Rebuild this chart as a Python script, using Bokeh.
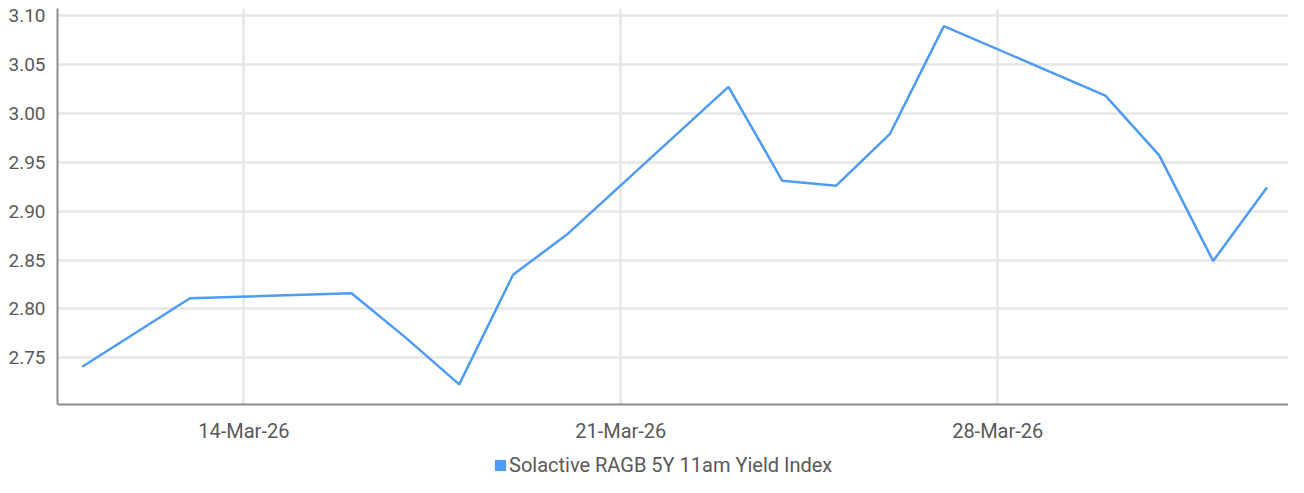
from datetime import datetime, timedelta
from bokeh.plotting import figure
from bokeh.layouts import column
from bokeh.models import (ColumnDataSource, FixedTicker, DatetimeTickFormatter,
                          NumeralTickFormatter, Range1d, Legend, LegendItem)
from bokeh.embed import file_html
from bokeh.resources import INLINE

dates = ["2026-03-11", "2026-03-12", "2026-03-13", "2026-03-16", "2026-03-17",
         "2026-03-18", "2026-03-19", "2026-03-20", "2026-03-23", "2026-03-24",
         "2026-03-25", "2026-03-26", "2026-03-27", "2026-03-30", "2026-03-31",
         "2026-04-01", "2026-04-02"]
values = [2.741, 2.776, 2.811, 2.816, 2.771, 2.723, 2.835, 2.876, 3.027, 2.931,
          2.926, 2.979, 3.089, 3.018, 2.957, 2.849, 2.924]
x_tick_dates = ["2026-03-14", "2026-03-21", "2026-03-28"]
y_ticks = [2.75, 2.80, 2.85, 2.90, 2.95, 3.00, 3.05, 3.10]
series_name = "Solactive RAGB 5Y 11am Yield Index"

xs = [datetime.strptime(d, "%Y-%m-%d") for d in dates]
src = ColumnDataSource(dict(x=xs, y=values))

def ms(d):
    return (d - datetime(1970, 1, 1)).total_seconds() * 1000.0

x0 = xs[0] - timedelta(days=0.46)
x1 = xs[-1] + timedelta(days=0.40)

FONT = "Roboto"
TXT = "#595959"
BLUE = "#4d9bf5"
GRID = "#e6e6e6"
AXIS = "#8c8c8c"

p = figure(width=1288, height=452, output_backend="svg",
           toolbar_location=None, x_axis_type="datetime",
           x_range=Range1d(x0, x1), y_range=Range1d(2.7024, 3.107),
           min_border_left=57, min_border_right=0, min_border_top=8,
           min_border_bottom=48)
p.outline_line_color = None
p.background_fill_color = "white"
p.border_fill_color = "white"

xticker = FixedTicker(ticks=[ms(datetime.strptime(d, "%Y-%m-%d")) for d in x_tick_dates])
p.xaxis.ticker = xticker
p.xaxis.formatter = DatetimeTickFormatter(days="%d-%b-%y", months="%d-%b-%y",
                                          hours="%d-%b-%y")
p.yaxis.ticker = FixedTicker(ticks=y_ticks)
p.yaxis.formatter = NumeralTickFormatter(format="0.00")

for ax in (p.xaxis, p.yaxis):
    ax.axis_line_color = AXIS
    ax.axis_line_width = 2
    ax.major_tick_line_color = None
    ax.minor_tick_line_color = None
    ax.major_label_text_font = FONT
    ax.major_label_text_color = TXT
p.xaxis.major_label_text_font_size = "20px"
p.yaxis.major_label_text_font_size = "19px"
p.xaxis.major_label_standoff = 8
p.yaxis.major_label_standoff = 6

p.xgrid.ticker = xticker
p.xgrid.grid_line_color = GRID
p.xgrid.grid_line_width = 2.5
p.ygrid.grid_line_color = GRID
p.ygrid.grid_line_width = 2.5

p.line("x", "y", source=src, line_color=BLUE, line_width=2.5)

# legend strip below the chart
lg = figure(width=1288, height=25, output_backend="svg", toolbar_location=None,
            x_range=Range1d(0, 1), y_range=Range1d(0, 1),
            min_border=0, outline_line_color=None)
lg.axis.visible = False
lg.grid.visible = False
sw = lg.quad(left=[5], right=[6], top=[5], bottom=[4],
             fill_color=BLUE, line_color=None)
legend = Legend(items=[LegendItem(label=series_name, renderers=[sw])],
                orientation="horizontal", location=(436, 0),
                label_text_font=FONT, label_text_font_size="20px",
                label_text_color=TXT, glyph_width=14, glyph_height=14,
                label_standoff=2, padding=0, margin=0, spacing=0,
                border_line_color=None, background_fill_alpha=0)
lg.add_layout(legend, "center")

layout = column(p, lg, spacing=0)
open("out.html", "w").write(file_html(layout, INLINE))
